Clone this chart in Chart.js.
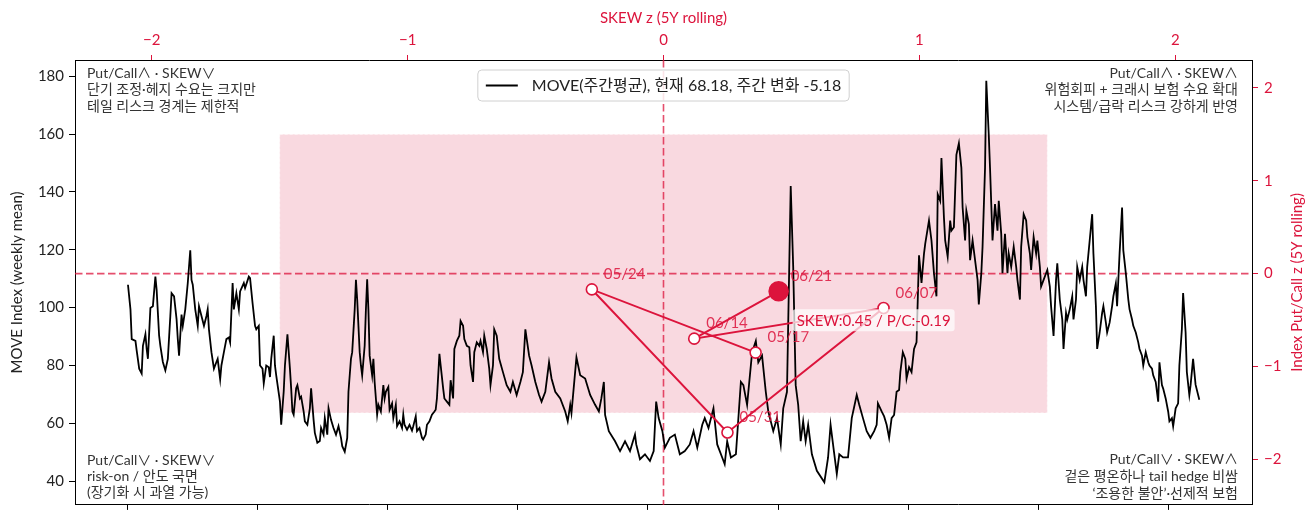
<!DOCTYPE html>
<html>
<head>
<meta charset="utf-8">
<title>MOVE vs SKEW / Put-Call</title>
<script src="https://cdn.jsdelivr.net/npm/chart.js@4.4.1/dist/chart.umd.min.js"></script>
<style>
  body { margin: 0; background: #fff; }
  .wrap { width: 1313px; height: 516px; }
</style>
</head>
<body>
<div class="wrap"><canvas class="moveChart" width="1313" height="516"></canvas></div>
<script>
const red = "#dc143c";
const fontFamily = "Lato, 'Noto Sans CJK KR', sans-serif";
const startYear = 2010;

// MOVE weekly mean: week number since start and the value
const moveWeeks = [
  0, 2, 3, 6, 7, 9, 11, 12, 14, 15, 16, 18, 20, 22, 23, 25, 26, 28, 30, 32,
  34, 35, 37, 39, 40, 41, 43, 44, 46, 48, 50, 51, 52, 54, 56, 57, 59, 61, 63, 64,
  65, 67, 69, 71, 72, 74, 75, 77, 79, 81, 82, 84, 85, 87, 89, 90, 93, 94, 97, 98,
  100, 102, 103, 105, 106, 108, 109, 111, 113, 114, 115, 117, 118, 119, 122, 123, 125, 126, 128, 130,
  131, 132, 133, 135, 136, 138, 139, 141, 142, 144, 146, 147, 149, 150, 152, 154, 155, 157, 158, 160,
  161, 163, 165, 167, 169, 171, 172, 174, 176, 177, 179, 180, 182, 183, 184, 186, 187, 188, 190, 191,
  192, 193, 194, 196, 197, 198, 200, 201, 203, 205, 206, 207, 209, 210, 212, 213, 215, 216, 218, 220,
  221, 222, 224, 226, 228, 229, 231, 232, 234, 236, 237, 239, 240, 242, 244, 246, 247, 248, 250, 251,
  253, 254, 256, 258, 259, 261, 262, 264, 266, 267, 269, 270, 272, 274, 275, 277, 278, 280, 282, 283,
  285, 286, 288, 290, 291, 293, 294, 296, 298,
  301, 304, 307, 309, 312, 315, 317, 319, 322, 324, 327, 330, 332, 335, 338, 340, 343, 347, 351, 353,
  355, 356, 360, 363, 367, 371, 375, 378, 380, 382, 383, 386, 391, 395, 399, 403, 407, 408, 411, 415,
  419, 422, 424, 426, 429, 431, 435, 439, 443, 447, 451, 454, 457, 461, 463, 466, 470, 473, 477, 479,
  481, 484, 488, 490, 492, 494, 497, 501, 504, 506, 509, 512, 514, 518, 521, 524, 526, 529, 532, 534,
  536, 538, 540, 542, 544, 546, 549, 553, 559, 562, 564, 567, 569, 571, 574, 578, 581, 585, 587, 590,
  593, 596,
  599, 601, 602, 605, 607, 609, 611, 613, 615, 617, 619, 620, 622, 624, 625, 627, 629, 631, 633, 634,
  635, 637, 639, 640, 643, 645, 647, 649, 650, 652, 653, 655, 656, 658, 660, 661, 663, 665, 667, 669,
  670, 672, 673, 675, 676, 678, 679, 682, 683, 685, 686, 688, 689, 691, 692, 694, 696, 698, 699, 701,
  702, 704, 706, 707, 709, 711, 713, 714, 716, 717, 719, 721, 722, 724, 725, 727, 729, 730, 732, 733,
  735, 737, 738, 740, 741, 743, 745, 746, 748, 750, 751, 753, 754, 756, 758, 759, 761, 762, 764, 766,
  767, 769, 770, 772, 774, 775, 777, 778, 780, 782, 783, 785, 786, 788, 790, 791, 793, 794, 796, 798,
  799, 801, 803, 804, 806, 807, 809, 811, 812, 814, 815, 817, 819, 820, 822, 823, 825, 827, 828, 830,
  831, 833, 835, 836, 838, 839, 841, 843, 844, 846, 847, 849, 850, 852, 853, 855, 857, 860
];
const moveValues = [
  107.9, 99.4, 89.1, 88.5, 85.1, 78.9, 77.2, 86.8, 90.8, 85.7, 82.3, 99.9, 100.5, 110.7, 106.2, 90.3, 86.8, 81.2, 78.3, 82.3,
  97.1, 105.0, 103.9, 96.0, 89.1, 83.4, 97.6, 93.7, 99.4, 108.5, 119.8, 109.6, 107.9, 99.4, 93.7, 100.5, 97.1, 93.7, 97.1, 99.4,
  92.5, 84.6, 78.9, 81.2, 82.3, 75.2, 80.0, 84.6, 89.1, 89.7, 88.0, 108.5, 99.4, 105.0, 99.4, 105.6, 108.5, 106.8, 110.7, 110.2,
  101.6, 93.7, 92.5, 93.7, 80.0, 78.9, 73.8, 80.0, 79.4, 76.0, 82.3, 90.3, 80.0, 76.6, 67.5, 59.5, 70.9, 80.0, 90.8, 78.9,
  72.1, 64.1, 63.0, 72.1, 73.2, 68.6, 69.2, 64.1, 60.7, 59.5, 65.2, 72.1, 61.2, 56.7, 53.3, 53.9, 58.4, 56.1, 61.8, 56.1,
  65.2, 61.2, 58.4, 56.1, 59.0, 55.0, 52.1, 50.2, 55.0, 70.9, 82.3, 84.6, 99.4, 109.6, 102.8, 84.6, 80.0, 76.6, 86.8, 99.4,
  109.8, 99.4, 83.4, 76.6, 82.3, 74.3, 63.0, 66.4, 64.1, 73.2, 68.6, 70.9, 72.6, 64.7, 66.9, 61.8, 66.4, 59.0, 60.7, 58.4,
  63.0, 59.5, 57.8, 59.5, 57.5, 59.0, 62.4, 57.3, 58.4, 55.0, 54.4, 56.1, 59.5, 60.7, 63.0, 64.1, 64.7, 68.6, 84.0, 80.0,
  72.1, 68.6, 67.5, 66.4, 74.9, 68.6, 85.7, 88.5, 90.3, 95.4, 93.7, 89.1, 86.8, 86.3, 80.0, 74.3, 84.6, 88.0, 86.8, 88.5,
  84.6, 90.3, 85.7, 78.9, 73.2, 80.0, 92.5, 90.3, 82.3,
  77.7, 73.2, 70.9, 74.3, 69.8, 74.3, 77.7, 92.5, 83.4, 80.0, 74.3, 69.8, 67.5, 70.9, 81.1, 75.5, 70.9, 68.6, 64.1, 60.7,
  66.4, 63.5, 82.8, 76.6, 75.5, 69.8, 66.4, 64.1, 68.6, 74.3, 62.9, 57.3, 53.8, 50.4, 53.8, 50.4, 56.1, 52.7, 47.6, 49.3,
  47.0, 50.4, 67.5, 61.8, 57.3, 51.6, 55.0, 56.1, 49.3, 50.4, 52.7, 57.3, 51.6, 59.5, 61.8, 58.4, 65.2, 52.7, 48.2, 45.9,
  53.8, 48.2, 49.3, 61.8, 74.3, 73.2, 66.4, 84.5, 88.5, 81.1, 83.4, 70.9, 64.1, 57.3, 61.8, 52.7, 65.2, 70.9, 142.0, 114.1,
  73.2, 66.4, 53.8, 60.7, 53.8, 59.5, 49.3, 43.6, 39.6, 48.2, 59.5, 49.3, 42.5, 49.3, 48.2, 48.2, 61.8, 69.8, 66.4, 61.8,
  57.3, 55.0,
  57.3, 59.5, 66.9, 64.1, 62.4, 59.5, 55.0, 61.8, 62.9, 70.9, 71.5, 77.7, 84.6, 82.3, 75.5, 79.4, 77.7, 85.7, 88.0, 102.8,
  118.1, 108.5, 118.7, 122.1, 130.1, 123.2, 111.9, 103.9, 139.2, 136.9, 151.7, 131.2, 123.2, 117.6, 130.1, 126.6, 127.8, 152.8, 156.8, 148.3,
  134.6, 123.2, 133.5, 128.9, 116.4, 123.2, 119.8, 109.6, 101.1, 111.9, 121.0, 148.3, 178.4, 159.6, 148.3, 123.2, 135.8, 126.6, 136.9, 125.5,
  111.9, 125.5, 111.9, 118.7, 114.1, 121.0, 114.1, 109.6, 102.8, 121.0, 132.3, 130.1, 124.4, 118.7, 113.0, 124.4, 118.7, 123.2, 114.1, 107.3,
  109.6, 111.9, 113.0, 107.3, 100.5, 90.2, 109.6, 115.3, 102.8, 95.9, 85.7, 98.2, 95.9, 99.4, 103.9, 95.9, 102.8, 114.1, 109.6, 114.1,
  109.6, 103.9, 114.1, 123.2, 132.3, 118.7, 100.5, 85.7, 91.4, 98.2, 100.5, 94.8, 91.4, 94.8, 100.5, 103.9, 108.4, 100.5, 118.7, 134.6,
  119.8, 111.9, 102.8, 99.4, 95.9, 93.7, 91.4, 88.0, 85.7, 83.4, 80.0, 84.6, 81.1, 80.0, 78.9, 76.6, 74.3, 67.5, 81.1, 73.2,
  72.0, 68.6, 64.1, 60.7, 61.8, 59.0, 65.2, 66.9, 80.0, 92.5, 105.0, 91.4, 77.7, 69.8, 73.2, 82.3, 73.36, 68.18
];

// last six weeks in the SKEW z / Put-Call z plane
const pathDates = ["05/17", "05/24", "05/31", "06/07", "06/14", "06/21"];
const skewZ = [0.36, -0.28, 0.25, 0.86, 0.12, 0.45];
const putCallZ = [-0.85, -0.17, -1.71, -0.37, -0.70, -0.19];

const zoneLimit = 1.5;

const topLeftNote = ["Put/Call∧ · SKEW∨", "단기 조정·헤지 수요는 크지만", "테일 리스크 경계는 제한적"];
const topRightNote = ["Put/Call∧ · SKEW∧", "위험회피 + 크래시 보험 수요 확대", "시스템/급락 리스크 강하게 반영"];
const bottomLeftNote = ["Put/Call∨ · SKEW∨", "risk-on / 안도 국면", "(장기화 시 과열 가능)"];
const bottomRightNote = ["Put/Call∨ · SKEW∧", "겉은 평온하나 tail hedge 비쌈", "‘조용한 불안’·선제적 보험"];

const lastMove = moveValues[moveValues.length - 1];
const prevMove = moveValues[moveValues.length - 2];
const legendText = "MOVE(주간평균), 현재 " + lastMove.toFixed(2) + ", 주간 변화 " + (lastMove - prevMove).toFixed(2);

Chart.defaults.font.family = fontFamily;

function minusSign(v) {
  return v < 0 ? "\u2212" + Math.abs(v) : String(v);
}

function noPadding(scale) {
  scale.paddingTop = 0;
  scale.paddingBottom = 0;
  scale.paddingLeft = 0;
  scale.paddingRight = 0;
}

// shaded zone, zero lines, labels and notes
const extrasPlugin = {
  id: "extras",
  beforeDatasetsDraw(chart) {
    const ctx = chart.ctx;
    const a = chart.chartArea;
    const sx = chart.scales.x2;
    const sy = chart.scales.y2;
    const x0 = sx.getPixelForValue(-zoneLimit);
    const x1 = sx.getPixelForValue(zoneLimit);
    const y0 = sy.getPixelForValue(zoneLimit);
    const y1 = sy.getPixelForValue(-zoneLimit);
    ctx.save();
    ctx.fillStyle = "rgba(220,20,60,0.16)";
    ctx.fillRect(x0, y0, x1 - x0, y1 - y0);
    ctx.setLineDash([3, 2]);
    ctx.strokeStyle = "rgba(255,255,255,0.6)";
    ctx.lineWidth = 1;
    ctx.strokeRect(x0, y0, x1 - x0, y1 - y0);

    ctx.setLineDash([7.5, 3.5]);
    ctx.strokeStyle = "rgba(220,20,60,0.75)";
    ctx.lineWidth = 1.6;
    const zx = sx.getPixelForValue(0);
    const zy = sy.getPixelForValue(0);
    ctx.beginPath();
    ctx.moveTo(zx, a.top);
    ctx.lineTo(zx, a.bottom);
    ctx.moveTo(a.left, zy);
    ctx.lineTo(a.right, zy);
    ctx.stroke();
    ctx.restore();
  },
  afterDatasetsDraw(chart) {
    const ctx = chart.ctx;
    const a = chart.chartArea;
    const sx = chart.scales.x2;
    const sy = chart.scales.y2;
    ctx.save();

    // date labels next to the points
    ctx.font = "15px " + fontFamily;
    ctx.fillStyle = "rgba(220,20,60,0.85)";
    ctx.textAlign = "left";
    ctx.textBaseline = "middle";
    for (let i = 0; i < pathDates.length; i++) {
      const px = sx.getPixelForValue(skewZ[i]);
      const py = sy.getPixelForValue(putCallZ[i]);
      ctx.fillText(pathDates[i], px + 12, py - 15);
    }

    // latest value box
    const last = pathDates.length - 1;
    const note = "SKEW:" + skewZ[last].toFixed(2) + " / P/C:" + putCallZ[last].toFixed(2);
    const bx = sx.getPixelForValue(skewZ[last]) + 14;
    const by = sy.getPixelForValue(putCallZ[last]) + 29;
    const bw = ctx.measureText(note).width + 8;
    ctx.fillStyle = "rgba(255,255,255,0.72)";
    ctx.beginPath();
    ctx.roundRect(bx, by - 11, bw, 22, 3);
    ctx.fill();
    ctx.fillStyle = red;
    ctx.fillText(note, bx + 4, by + 1);

    // quadrant notes
    ctx.font = "14px " + fontFamily;
    ctx.fillStyle = "#333";
    for (let i = 0; i < 3; i++) {
      ctx.textAlign = "left";
      ctx.fillText(topLeftNote[i], a.left + 12, a.top + 13 + i * 16.5);
      ctx.fillText(bottomLeftNote[i], a.left + 12, a.bottom - 44.5 + i * 16);
      ctx.textAlign = "right";
      ctx.fillText(topRightNote[i], a.right - 14, a.top + 13 + i * 16.5);
      ctx.fillText(bottomRightNote[i], a.right - 14, a.bottom - 45.5 + i * 17);
    }

    // legend, upper center
    ctx.font = "16px " + fontFamily;
    const tw = ctx.measureText(legendText).width;
    const lw = tw + 62;
    const lx = (a.left + a.right) / 2 - lw / 2;
    const ly = a.top + 10;
    ctx.fillStyle = "rgba(255,255,255,0.85)";
    ctx.strokeStyle = "#d0d0d0";
    ctx.lineWidth = 1;
    ctx.beginPath();
    ctx.roundRect(lx, ly, lw, 31, 4);
    ctx.fill();
    ctx.stroke();
    ctx.strokeStyle = "#000";
    ctx.lineWidth = 2;
    ctx.beginPath();
    ctx.moveTo(lx + 8, ly + 15.5);
    ctx.lineTo(lx + 40, ly + 15.5);
    ctx.stroke();
    ctx.fillStyle = "#222";
    ctx.textAlign = "left";
    ctx.fillText(legendText, lx + 54, ly + 16);
    ctx.restore();
  },
  afterDraw(chart) {
    const ctx = chart.ctx;
    const a = chart.chartArea;
    ctx.save();
    ctx.translate(a.right + 45, (a.top + a.bottom) / 2);
    ctx.rotate(-Math.PI / 2);
    ctx.font = "15px " + fontFamily;
    ctx.fillStyle = red;
    ctx.textAlign = "center";
    ctx.textBaseline = "middle";
    ctx.fillText("Index Put/Call z (5Y rolling)", 0, 0);
    ctx.restore();
  }
};

const moveChart = document.querySelector(".moveChart");

new Chart(moveChart, {
  type: "scatter",
  data: {
    datasets: [
      {
        label: legendText,
        data: moveWeeks.map((w, i) => ({ x: startYear + w / 52.18, y: moveValues[i] })),
        xAxisID: "x",
        yAxisID: "y",
        showLine: true,
        borderColor: "#000",
        borderWidth: 1.8,
        pointRadius: 0,
        order: 2
      },
      {
        label: "z path",
        data: skewZ.map((s, i) => ({ x: s, y: putCallZ[i] })),
        xAxisID: "x2",
        yAxisID: "y2",
        showLine: true,
        borderColor: red,
        borderWidth: 2,
        pointRadius: pathDates.map((d, i) => (i === pathDates.length - 1 ? 9.5 : 5.5)),
        pointBackgroundColor: pathDates.map((d, i) => (i === pathDates.length - 1 ? red : "#fff")),
        pointBorderColor: red,
        pointBorderWidth: 1.6,
        order: 1
      }
    ]
  },
  options: {
    responsive: false,
    animation: false,
    devicePixelRatio: 1,
    layout: { padding: 0 },
    plugins: {
      legend: { display: false },
      tooltip: { enabled: false }
    },
    scales: {
      x: {
        type: "linear",
        position: "bottom",
        min: 2009.185,
        max: 2027.292,
        ticks: { display: false, stepSize: 2, includeBounds: false },
        grid: { drawOnChartArea: false, drawTicks: true, tickLength: 5, color: "#000" },
        border: { color: "#000", width: 1 },
        afterFit(scale) { noPadding(scale); scale.height = 5; }
      },
      x2: {
        type: "linear",
        position: "top",
        min: -2.3,
        max: 2.3,
        ticks: { stepSize: 1, includeBounds: false, color: red, font: { size: 15 }, padding: 6, callback: minusSign },
        grid: { drawOnChartArea: false, drawTicks: true, tickLength: 5, color: red },
        border: { color: "#000", width: 1 },
        title: { display: true, text: "SKEW z (5Y rolling)", color: red, font: { size: 15 }, padding: { top: 9, bottom: 0 } },
        afterFit(scale) { noPadding(scale); scale.height = 60; }
      },
      y: {
        type: "linear",
        position: "left",
        min: 31.8,
        max: 185.6,
        ticks: { stepSize: 20, includeBounds: false, color: "#222", font: { size: 15 }, padding: 5 },
        grid: { drawOnChartArea: false, drawTicks: true, tickLength: 6, color: "#000" },
        border: { color: "#000", width: 1 },
        title: { display: true, text: "MOVE Index (weekly mean)", color: "#222", font: { size: 15 }, padding: { top: 8, bottom: 0 } },
        afterFit(scale) { noPadding(scale); scale.width = 75; }
      },
      y2: {
        type: "linear",
        position: "right",
        min: -2.49,
        max: 2.30,
        ticks: { stepSize: 1, includeBounds: false, color: red, font: { size: 15 }, padding: 6, callback: minusSign },
        grid: { drawOnChartArea: false, drawTicks: true, tickLength: 6, color: red },
        border: { color: "#000", width: 1 },
        afterFit(scale) { noPadding(scale); scale.width = 61; }
      }
    }
  },
  plugins: [extrasPlugin]
});
</script>
</body>
</html>
